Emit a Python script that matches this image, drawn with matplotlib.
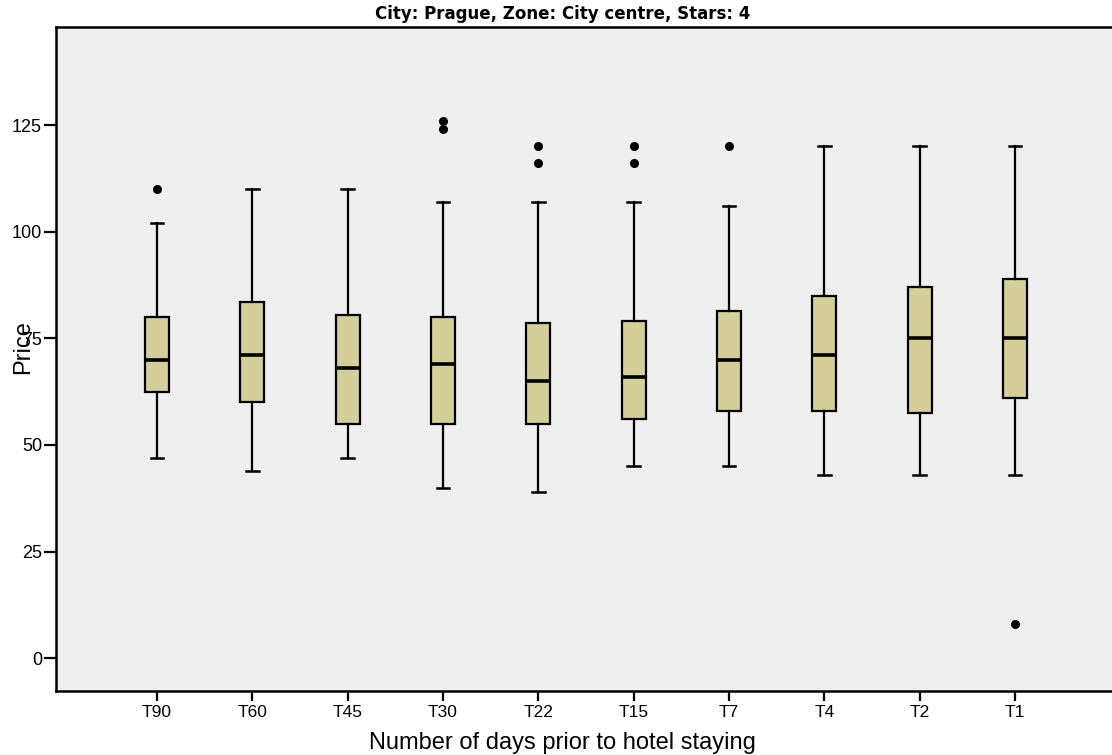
import matplotlib.pyplot as plt
import numpy as np

plt.rcParams['font.family'] = ['Liberation Sans', 'DejaVu Sans']

# values
labels = ['T90', 'T60', 'T45', 'T30', 'T22', 'T15', 'T7', 'T4', 'T2', 'T1']
whislo = [47, 44, 47, 40, 39, 45, 45, 43, 43, 43]
q1 = [62.5, 60, 55, 55, 55, 56, 58, 58, 57.5, 61]
med = [70, 71, 68, 69, 65, 66, 70, 71, 75, 75]
q3 = [80, 83.5, 80.5, 80, 78.5, 79, 81.5, 85, 87, 89]
whishi = [102, 110, 110, 107, 107, 107, 106, 120, 120, 120]
fliers = [[110], [], [], [126, 124], [120, 116], [120, 116], [120], [], [], [8]]

stats = []
for i in range(len(labels)):
    stats.append(dict(label=labels[i], whislo=whislo[i], q1=q1[i], med=med[i],
                      q3=q3[i], whishi=whishi[i], fliers=fliers[i]))

fig = plt.figure(figsize=(11.12, 7.55), dpi=100)
ax = fig.add_axes([56/1112, 1-691/755, 1060/1112, 664/755])
ax.set_facecolor('#efefef')

pos = np.arange(1, len(labels)+1)
ax.bxp(stats, positions=pos, widths=0.25, patch_artist=True,
       boxprops=dict(facecolor='#d4cf98', edgecolor='black', linewidth=1.6),
       medianprops=dict(color='black', linewidth=2.6),
       whiskerprops=dict(color='black', linewidth=1.6),
       capprops=dict(color='black', linewidth=1.8),
       capwidths=0.13,
       flierprops=dict(marker='o', markerfacecolor='black', markeredgecolor='black',
                       markersize=5.5))

ax.set_xlim(-0.06, 11.06)
ax.set_ylim(-7.7, 148)
ax.set_yticks([0, 25, 50, 75, 100, 125])
ax.set_xticks(pos)
ax.set_xticklabels(labels)
ax.tick_params(axis='y', length=9, width=1.6, pad=1, labelsize=13)
ax.tick_params(axis='x', length=7, width=1.6, pad=3, labelsize=12.5)
for s in ax.spines.values():
    s.set_linewidth(1.8)

ax.set_ylabel('Price', fontsize=17)
ax.yaxis.set_label_coords(-0.021, 0.518)
ax.set_xlabel('Number of days prior to hotel staying', fontsize=17, va='top')
ax.xaxis.set_label_coords(0.478, -0.061)

fig.text(563/1112, 1-14/755, 'City: Prague, Zone: City centre, Stars: 4',
         ha='center', va='center', fontsize=12, fontweight='bold',
         family='DejaVu Sans')

plt.savefig('out.png', dpi=100)
